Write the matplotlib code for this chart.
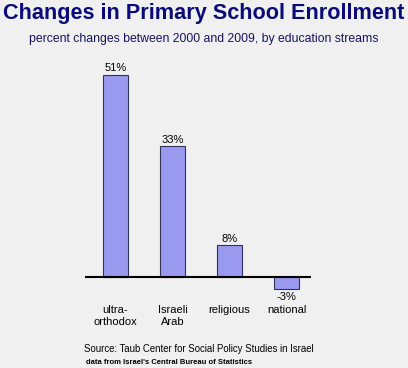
import matplotlib
matplotlib.use('Agg')
from matplotlib import pyplot as plt

categories = ['ultra-\northodox', 'Israeli\nArab', 'religious', 'national']
changes = [51, 33, 8, -3]
value_labels = ['51%', '33%', '8%', '-3%']

plt.rcParams['font.family'] = ['Liberation Sans', 'DejaVu Sans']
bg = '#f0f0f0'

fig = plt.figure(figsize=(4.08, 3.68), dpi=100, facecolor=bg)
ax = fig.add_axes([0.2083, 0.1826, 0.554, 0.6565])
ax.set_facecolor(bg)

xs = list(range(len(categories)))
ax.bar(xs, changes, width=0.44, color='#9999f0', edgecolor='#33335a', linewidth=0.8, zorder=2)
ax.axhline(0, color='black', linewidth=1.5, zorder=3)

for x, v, lab in zip(xs, changes, value_labels):
    if v >= 0:
        ax.text(x, v + 0.4, lab, ha='center', va='bottom', fontsize=8)
    else:
        ax.text(x, v - 0.8, lab, ha='center', va='top', fontsize=8)

for x, cat in zip(xs, categories):
    ax.text(x, -7.0, cat, ha='center', va='top', fontsize=8, linespacing=1.3, clip_on=False)

ax.set_xlim(-0.535, 3.43)
ax.set_ylim(-6, 55)
ax.axis('off')

fig.text(0.5, 0.964, 'Changes in Primary School Enrollment', ha='center', va='center',
         fontsize=15.6, fontweight='bold', color='#0a0a78')
fig.text(0.5, 0.893, 'percent changes between 2000 and 2009, by education streams',
         ha='center', va='center', fontsize=8.8, color='#14145a')
fig.text(0.205, 0.052, 'Source: Taub Center for Social Policy Studies in Israel',
         ha='left', va='center', fontsize=6.9)
fig.text(0.21, 0.014, "data from Israel's Central Bureau of Statistics",
         ha='left', va='center', fontsize=5.5, fontweight='bold')

fig.savefig('out.png', dpi=100, facecolor=bg)
